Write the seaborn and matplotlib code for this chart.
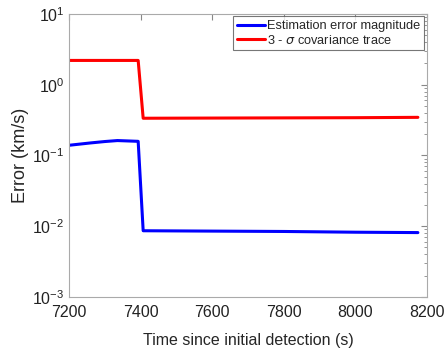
import numpy as np
import pandas as pd
import seaborn as sns
import matplotlib.pyplot as plt
from matplotlib.ticker import LogLocator, NullFormatter

# valores
tiempo = [7200, 7260, 7300, 7335, 7393, 7407, 7600, 7800, 8000, 8175]
error_mag = [0.139, 0.150, 0.157, 0.162, 0.158, 0.0086, 0.0085, 0.0084, 0.0082, 0.0081]
sigma_tr = [2.2, 2.2, 2.2, 2.2, 2.2, 0.335, 0.337, 0.339, 0.341, 0.345]

sns.set_style('white')
plt.rcParams['font.family'] = ['Liberation Sans', 'DejaVu Sans']
plt.rcParams['mathtext.fontset'] = 'dejavusans'

df = pd.DataFrame({'Tiempo': tiempo, 'Error': error_mag, 'Sigma': sigma_tr})

fig = plt.figure(figsize=(4.46, 3.48), dpi=100)
ax = fig.add_axes([0.155, 0.147, 0.802, 0.813])

sns.lineplot(data=df, x='Tiempo', y='Error', color='#0000ff', lw=2.2, ax=ax,
             label='Estimation error magnitude')
sns.lineplot(data=df, x='Tiempo', y='Sigma', color='#ff0000', lw=2.2, ax=ax,
             label='3 - $\\sigma$ covariance trace')

ax.set_yscale('log')
ax.set_xlim(7200, 8200)
ax.set_ylim(1e-3, 1e1)
ax.set_xticks([7200, 7400, 7600, 7800, 8000, 8200])
ax.yaxis.set_major_locator(LogLocator(base=10, numticks=10))
ax.yaxis.set_minor_locator(LogLocator(base=10, subs=np.arange(2, 10), numticks=10))
ax.yaxis.set_minor_formatter(NullFormatter())

ax.tick_params(axis='both', which='both', direction='in', top=True, right=True,
               color='#888888', labelsize=11.5, labelcolor='#222222')
ax.tick_params(which='major', length=4)
ax.tick_params(which='minor', length=2)
ax.tick_params(axis='x', pad=6)
for s in ax.spines.values():
    s.set_color('#aaaaaa')
    s.set_linewidth(0.8)

ax.set_xlabel('Time since initial detection (s)', fontsize=11.5, labelpad=9)
ax.set_ylabel('Error (km/s)', fontsize=13, labelpad=2)

leg = ax.legend(loc='upper right', fontsize=9.2, frameon=True, fancybox=False,
                edgecolor='#555555', handlelength=2.2, handletextpad=0.2,
                borderpad=0.3, labelspacing=0.1, borderaxespad=0.2)
leg.get_frame().set_linewidth(0.8)

plt.savefig('out.png', dpi=100)
